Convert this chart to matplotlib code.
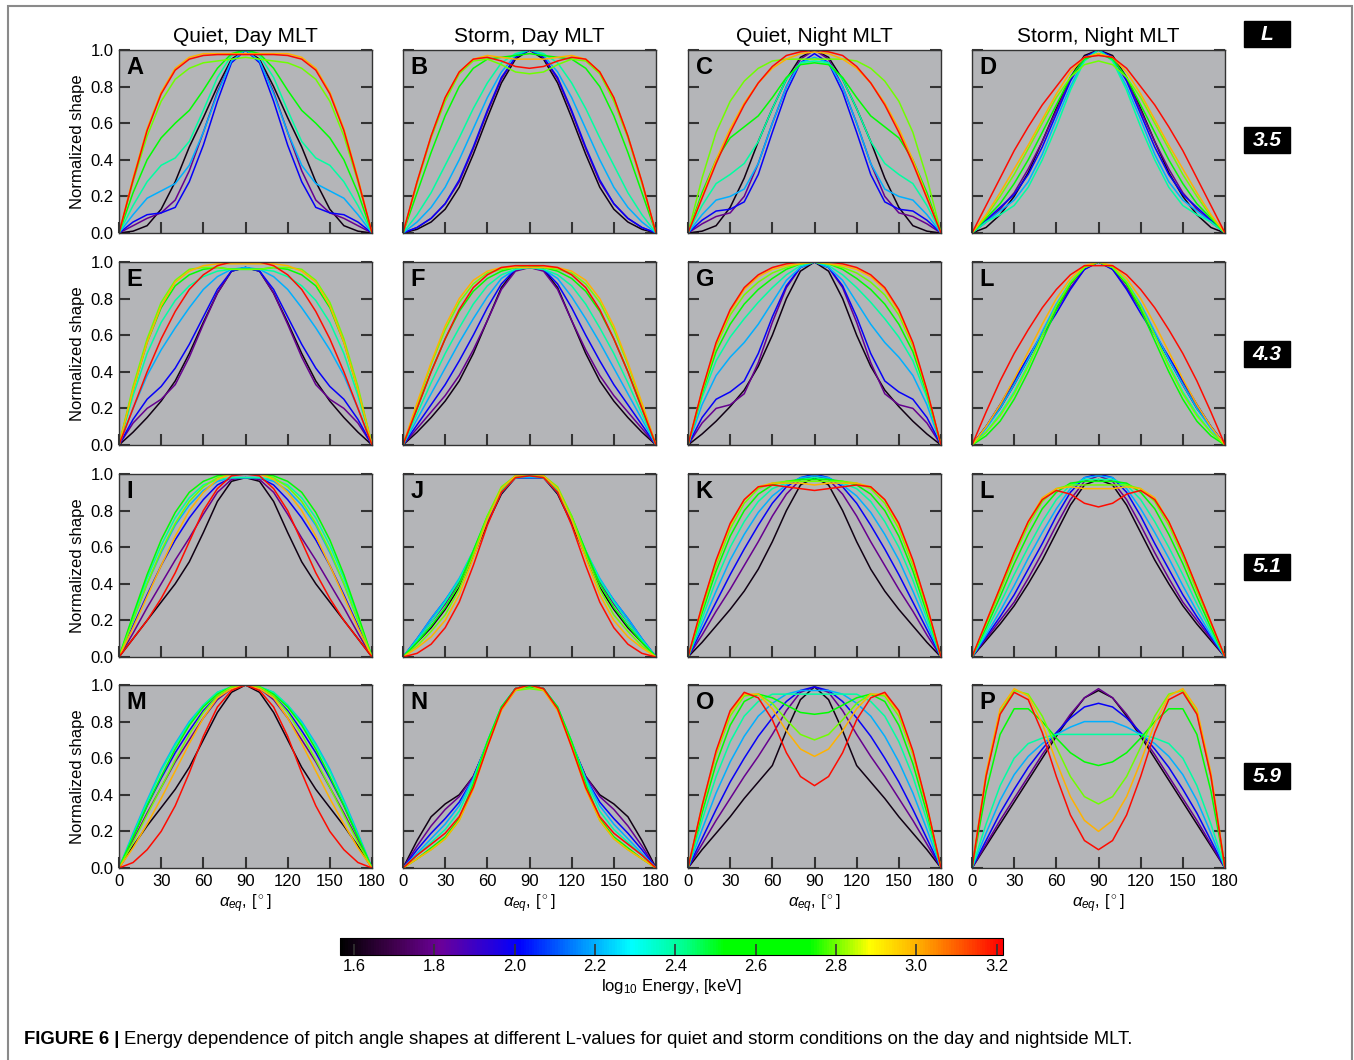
import numpy as np
import matplotlib
matplotlib.use('Agg')
import matplotlib.pyplot as plt
from matplotlib.colors import LinearSegmentedColormap, Normalize
from matplotlib.patches import Rectangle
import matplotlib.colorbar as mcolorbar

plt.rcParams['font.family'] = ['Liberation Sans', 'DejaVu Sans']
plt.rcParams['mathtext.fontset'] = 'custom'
plt.rcParams['mathtext.rm'] = 'Liberation Sans'
plt.rcParams['mathtext.it'] = 'Liberation Sans:italic'

# log10 energy of each drawn curve
energies = [1.6, 1.8, 2.0, 2.2, 2.4, 2.6, 2.8, 3.0, 3.2]
# pitch angle samples for half a curve (mirrored around 90)
alpha_half = [0, 10, 20, 30, 40, 50, 60, 70, 80, 90]

col_titles = ['Quiet, Day MLT', 'Storm, Day MLT', 'Quiet, Night MLT', 'Storm, Night MLT']
l_values = ['3.5', '4.3', '5.1', '5.9']
panel_letters = ['A', 'B', 'C', 'D', 'E', 'F', 'G', 'L', 'I', 'J', 'K', 'L', 'M', 'N', 'O', 'P']

# one row per energy, values at alpha_half
A = [[0, .01, .04, .13, .28, .47, .63, .80, .95, 1.0],
     [0, .04, .08, .11, .18, .34, .55, .77, .94, 1.0],
     [0, .06, .10, .11, .14, .28, .48, .72, .93, 1.0],
     [0, .10, .19, .23, .27, .37, .55, .76, .94, 1.0],
     [0, .15, .28, .37, .41, .50, .67, .85, .97, 1.0],
     [0, .22, .40, .52, .60, .67, .78, .90, .98, 1.0],
     [0, .28, .53, .72, .84, .90, .93, .94, .95, .96],
     [0, .30, .57, .77, .90, .96, .98, .98, .98, .98],
     [0, .29, .56, .76, .89, .95, .97, .975, .975, .975]]
B = [[0, .02, .06, .13, .25, .43, .63, .82, .95, 1.0],
     [0, .03, .08, .16, .28, .46, .66, .84, .96, 1.0],
     [0, .03, .08, .16, .29, .47, .67, .85, .96, 1.0],
     [0, .06, .14, .25, .40, .57, .74, .88, .97, 1.0],
     [0, .10, .22, .37, .52, .68, .82, .93, .98, 1.0],
     [0, .22, .44, .64, .80, .90, .95, .96, .97, .98],
     [0, .27, .52, .72, .87, .94, .95, .92, .88, .87],
     [0, .28, .53, .74, .88, .95, .97, .96, .95, .95],
     [0, .28, .53, .74, .88, .95, .96, .94, .91, .90]]
C = [[0, .01, .04, .14, .30, .50, .68, .84, .96, 1.0],
     [0, .05, .09, .11, .20, .38, .60, .80, .95, 1.0],
     [0, .07, .12, .13, .17, .32, .55, .77, .93, .98],
     [0, .10, .18, .20, .24, .38, .60, .80, .93, .96],
     [0, .15, .27, .32, .38, .50, .68, .84, .93, .94],
     [0, .22, .40, .52, .58, .64, .74, .85, .92, .93],
     [0, .30, .55, .72, .83, .90, .94, .95, .95, .95],
     [0, .20, .40, .57, .71, .82, .90, .95, .98, .99],
     [0, .19, .38, .55, .70, .82, .91, .97, .99, 1.0]]
D = [[0, .03, .10, .20, .33, .50, .68, .85, .97, 1.0],
     [0, .06, .13, .22, .35, .50, .67, .84, .96, 1.0],
     [0, .07, .14, .21, .32, .47, .65, .83, .96, 1.0],
     [0, .06, .12, .18, .28, .43, .62, .80, .95, 1.0],
     [0, .06, .10, .15, .25, .40, .58, .78, .94, 1.0],
     [0, .08, .16, .27, .40, .55, .70, .85, .95, .98],
     [0, .09, .20, .32, .46, .60, .74, .85, .92, .94],
     [0, .10, .22, .35, .48, .62, .76, .88, .96, .98],
     [0, .15, .30, .45, .58, .70, .80, .90, .96, .97]]
E = [[0, .07, .15, .24, .35, .50, .67, .83, .95, .97],
     [0, .12, .20, .25, .33, .48, .66, .83, .95, .97],
     [0, .14, .25, .32, .42, .55, .70, .85, .95, .97],
     [0, .20, .38, .52, .64, .75, .85, .92, .96, .97],
     [0, .27, .50, .67, .79, .87, .92, .95, .96, .96],
     [0, .30, .56, .75, .87, .93, .96, .97, .96, .96],
     [0, .32, .58, .78, .90, .96, .97, .97, .96, .96],
     [0, .30, .56, .76, .89, .95, .98, .99, .99, .99],
     [0, .20, .40, .58, .73, .85, .93, .98, 1.0, 1.0]]
F = [[0, .07, .15, .24, .35, .50, .68, .86, .96, .97],
     [0, .09, .18, .27, .38, .52, .68, .85, .95, .97],
     [0, .11, .22, .33, .46, .60, .75, .88, .96, .97],
     [0, .14, .28, .42, .56, .69, .81, .91, .96, .97],
     [0, .17, .34, .50, .64, .77, .87, .93, .96, .97],
     [0, .20, .40, .58, .73, .84, .91, .95, .97, .98],
     [0, .22, .44, .63, .78, .88, .94, .96, .97, .97],
     [0, .23, .45, .65, .80, .90, .95, .97, .97, .97],
     [0, .20, .40, .58, .74, .86, .93, .97, .98, .98]]
G = [[0, .06, .13, .21, .30, .43, .60, .80, .95, 1.0],
     [0, .12, .20, .22, .28, .45, .67, .86, .97, 1.0],
     [0, .15, .25, .29, .35, .50, .70, .87, .97, 1.0],
     [0, .22, .38, .48, .56, .66, .78, .90, .97, 1.0],
     [0, .26, .46, .59, .69, .78, .86, .93, .98, 1.0],
     [0, .28, .51, .66, .77, .85, .91, .96, .99, 1.0],
     [0, .29, .54, .71, .82, .89, .94, .97, .99, 1.0],
     [0, .30, .55, .73, .85, .92, .96, .98, .99, 1.0],
     [0, .30, .56, .74, .86, .93, .97, .99, 1.0, 1.0]]
H = [[0, .10, .20, .33, .47, .61, .75, .88, .97, 1.0],
     [0, .10, .22, .35, .48, .61, .74, .86, .96, 1.0],
     [0, .10, .22, .35, .48, .60, .72, .85, .96, 1.0],
     [0, .09, .20, .33, .47, .62, .77, .89, .97, 1.0],
     [0, .07, .17, .29, .44, .60, .76, .89, .97, 1.0],
     [0, .05, .13, .25, .40, .57, .74, .88, .97, 1.0],
     [0, .07, .16, .28, .43, .60, .76, .89, .97, 1.0],
     [0, .10, .22, .36, .51, .66, .80, .91, .98, 1.0],
     [0, .18, .35, .50, .63, .75, .85, .93, .98, .98]]
I = [[0, .10, .20, .30, .40, .52, .68, .85, .96, .98],
     [0, .13, .27, .40, .53, .65, .78, .90, .97, .98],
     [0, .17, .34, .50, .64, .76, .86, .94, .98, .98],
     [0, .20, .40, .57, .72, .83, .91, .96, .98, .98],
     [0, .22, .43, .61, .76, .87, .94, .97, .98, .98],
     [0, .23, .45, .64, .79, .90, .96, .99, 1.0, 1.0],
     [0, .20, .40, .58, .73, .85, .93, .98, 1.0, 1.0],
     [0, .16, .33, .50, .66, .80, .90, .97, 1.0, 1.0],
     [0, .10, .20, .32, .46, .63, .80, .92, .99, 1.0]]
J = [[0, .08, .16, .26, .38, .55, .73, .89, .98, .98],
     [0, .09, .19, .29, .41, .57, .74, .90, .98, .98],
     [0, .10, .21, .31, .42, .57, .75, .90, .98, .98],
     [0, .10, .21, .31, .43, .58, .76, .90, .98, .98],
     [0, .09, .19, .30, .42, .58, .76, .91, .98, .99],
     [0, .08, .17, .27, .40, .58, .77, .92, .99, 1.0],
     [0, .06, .14, .23, .37, .56, .77, .93, .99, 1.0],
     [0, .05, .11, .20, .34, .54, .75, .92, .99, 1.0],
     [0, .02, .07, .16, .30, .50, .72, .90, .98, .99]]
K = [[0, .08, .17, .26, .36, .48, .63, .80, .94, .98],
     [0, .12, .25, .37, .50, .63, .77, .89, .97, .99],
     [0, .15, .30, .45, .59, .72, .84, .93, .98, 1.0],
     [0, .18, .36, .53, .67, .79, .88, .94, .98, .99],
     [0, .21, .42, .60, .74, .85, .92, .95, .97, .98],
     [0, .24, .47, .66, .80, .89, .94, .96, .97, .97],
     [0, .26, .50, .70, .84, .92, .95, .96, .96, .96],
     [0, .28, .52, .72, .86, .93, .95, .95, .95, .94],
     [0, .28, .53, .73, .86, .93, .94, .93, .92, .91]]
L = [[0, .09, .18, .28, .40, .53, .68, .83, .94, .97],
     [0, .10, .20, .30, .43, .57, .72, .86, .96, .99],
     [0, .11, .22, .34, .48, .62, .77, .90, .98, 1.0],
     [0, .12, .25, .39, .54, .68, .81, .92, .98, .99],
     [0, .14, .29, .45, .60, .74, .86, .94, .97, .97],
     [0, .16, .33, .51, .67, .81, .90, .95, .96, .96],
     [0, .18, .36, .55, .72, .85, .92, .94, .94, .94],
     [0, .19, .38, .57, .74, .87, .92, .93, .92, .92],
     [0, .19, .38, .57, .74, .86, .91, .89, .84, .82]]
M = [[0, .12, .23, .33, .43, .55, .70, .85, .96, 1.0],
     [0, .15, .30, .44, .58, .70, .82, .92, .98, 1.0],
     [0, .17, .34, .49, .63, .75, .86, .94, .99, 1.0],
     [0, .19, .37, .54, .68, .80, .89, .96, .99, 1.0],
     [0, .18, .36, .53, .67, .79, .89, .96, .99, 1.0],
     [0, .17, .34, .50, .65, .78, .88, .95, .99, 1.0],
     [0, .14, .29, .44, .59, .73, .85, .94, .99, 1.0],
     [0, .11, .24, .38, .53, .68, .82, .93, .98, 1.0],
     [0, .03, .10, .20, .34, .52, .72, .88, .97, 1.0]]
N = [[0, .15, .28, .35, .40, .50, .68, .87, .98, 1.0],
     [0, .12, .23, .32, .39, .50, .68, .87, .98, 1.0],
     [0, .10, .19, .27, .36, .49, .68, .87, .98, 1.0],
     [0, .08, .16, .24, .34, .49, .69, .88, .98, 1.0],
     [0, .07, .14, .21, .31, .48, .69, .88, .98, 1.0],
     [0, .05, .11, .17, .27, .46, .69, .88, .98, .99],
     [0, .05, .10, .16, .26, .44, .67, .87, .97, .98],
     [0, .05, .10, .16, .26, .43, .66, .86, .97, 1.0],
     [0, .07, .13, .19, .28, .44, .66, .87, .98, 1.0]]
O = [[0, .10, .19, .28, .38, .47, .56, .75, .92, .99],
     [0, .13, .26, .38, .50, .61, .73, .86, .96, .99],
     [0, .16, .32, .47, .60, .72, .82, .91, .97, .99],
     [0, .21, .41, .58, .72, .83, .90, .95, .97, .97],
     [0, .26, .50, .69, .83, .91, .95, .95, .95, .95],
     [0, .30, .57, .78, .91, .95, .93, .89, .85, .84],
     [0, .33, .62, .83, .94, .95, .90, .81, .73, .70],
     [0, .34, .63, .85, .95, .95, .87, .75, .65, .61],
     [0, .34, .64, .86, .96, .93, .81, .63, .50, .45]]
P = [[0, .12, .24, .36, .48, .60, .72, .83, .93, .97],
     [0, .13, .26, .38, .50, .62, .73, .84, .93, .98],
     [0, .15, .30, .43, .55, .65, .74, .82, .88, .90],
     [0, .19, .37, .51, .61, .68, .73, .77, .80, .80],
     [0, .24, .45, .60, .68, .71, .73, .73, .73, .73],
     [0, .42, .73, .87, .87, .80, .71, .63, .58, .56],
     [0, .50, .85, .97, .95, .83, .66, .50, .39, .35],
     [0, .52, .87, .98, .94, .79, .58, .39, .26, .20],
     [0, .50, .84, .96, .92, .74, .50, .29, .15, .10]]

panels = [A, B, C, D, E, F, G, H, I, J, K, L, M, N, O, P]

# colour table (black-purple-blue-cyan-green-yellow-red)
cmap = LinearSegmentedColormap.from_list('energy', [
    (0.00, (0.0, 0.0, 0.0)),
    (0.08, (0.25, 0.0, 0.3)),
    (0.15, (0.42, 0.0, 0.6)),
    (0.27, (0.0, 0.0, 1.0)),
    (0.36, (0.0, 0.55, 1.0)),
    (0.44, (0.0, 1.0, 1.0)),
    (0.52, (0.0, 1.0, 0.55)),
    (0.58, (0.0, 1.0, 0.0)),
    (0.71, (0.0, 1.0, 0.0)),
    (0.80, (1.0, 1.0, 0.0)),
    (0.87, (1.0, 0.7, 0.0)),
    (1.00, (1.0, 0.0, 0.0))])
norm = Normalize(vmin=1.565, vmax=3.216)

W, H_ = 1354, 1060
fig = plt.figure(figsize=(W / 100, H_ / 100), dpi=100)

col_x = [119, 403, 688, 972]
row_y = [50, 262, 474, 685]
pw, ph = 253, 183

alpha_full = alpha_half + [180 - a for a in alpha_half[-2::-1]]

for r in range(4):
    for c in range(4):
        k = r * 4 + c
        ax = fig.add_axes([col_x[c] / W, 1 - (row_y[r] + ph) / H_, pw / W, ph / H_])
        ax.set_facecolor('#b4b5b8')
        for e, half in zip(energies, panels[k]):
            full = half + half[-2::-1]
            ax.plot(alpha_full, full, color=cmap(norm(e)), lw=1.1)
        ax.set_xlim(0, 180)
        ax.set_ylim(0, 1.0)
        ax.set_xticks([0, 30, 60, 90, 120, 150, 180])
        ax.set_yticks([0, 0.2, 0.4, 0.6, 0.8, 1.0])
        ax.tick_params(direction='in', length=8, width=1.5, color='#333333',
                       labelsize=12, right=True, top=False, pad=4)
        for s in ax.spines.values():
            s.set_color('#333333')
            s.set_linewidth(1.0)
        if c == 0:
            ax.set_yticklabels(['0.0', '0.2', '0.4', '0.6', '0.8', '1.0'])
            ax.set_ylabel('Normalized shape', fontsize=12, labelpad=4)
        else:
            ax.set_yticklabels([])
        if r == 3:
            ax.set_xlabel(r'$\alpha_{eq}$, [$^\circ$]', fontsize=12, labelpad=3)
        else:
            ax.set_xticklabels([])
        if r == 0:
            ax.set_title(col_titles[c], fontsize=15, pad=6)
        ax.text(0.03, 0.965, panel_letters[k], transform=ax.transAxes,
                ha='left', va='top', fontsize=17, fontweight='bold')

# L value boxes on the right
def l_box(text, ytop):
    fig.patches.append(Rectangle((1244 / W, 1 - (ytop + 26) / H_), 46 / W, 26 / H_,
                                 transform=fig.transFigure, color='black'))
    fig.text(1267 / W, 1 - (ytop + 13) / H_, text, color='white', ha='center', va='center',
             fontsize=15, fontweight='bold', fontstyle='italic')

l_box('L', 21)
for lv, yt in zip(l_values, [127, 341, 554, 763]):
    l_box(lv, yt)

# colour bar
cax = fig.add_axes([340 / W, 1 - 955 / H_, 663 / W, 17 / H_])
cb = mcolorbar.ColorbarBase(cax, cmap=cmap, norm=norm, orientation='horizontal')
cb.set_ticks([1.6, 1.8, 2.0, 2.2, 2.4, 2.6, 2.8, 3.0, 3.2])
cb.ax.set_xticklabels(['1.6', '1.8', '2.0', '2.2', '2.4', '2.6', '2.8', '3.0', '3.2'])
cax.tick_params(direction='in', length=8, width=1.2, color='#333333', labelsize=12, pad=3)
cb.outline.set_linewidth(0.8)
cb.set_label(r'log$_{10}$ Energy, [keV]', fontsize=12, labelpad=2)

# caption
renderer = fig.canvas.get_renderer()
t1 = fig.text(24 / W, 1 - 1040 / H_, 'FIGURE 6 |', fontsize=13.3, fontweight='bold', va='center')
bb = t1.get_window_extent(renderer=renderer)
fig.text((bb.x1 + 5) / W, 1 - 1040 / H_,
         'Energy dependence of pitch angle shapes at different L-values for quiet and storm '
         'conditions on the day and nightside MLT.', fontsize=13.3, va='center')

# frame around the figure
fig.patches.append(Rectangle((8 / W, -0.02), 1344 / W, 1 - 6 / H_ + 0.02, transform=fig.transFigure,
                             fill=False, edgecolor='#8a8a8a', lw=1.5))

fig.savefig('out.png', dpi=100)
